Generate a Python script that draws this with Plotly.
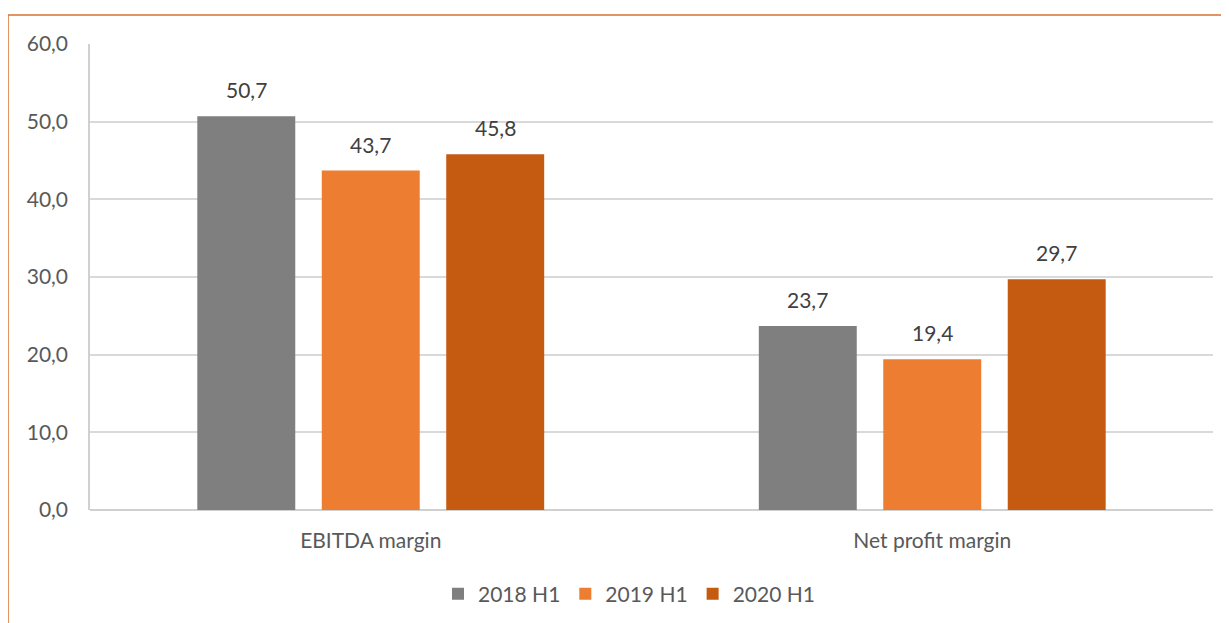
import plotly.graph_objects as go

categories = ["EBITDA margin", "Net profit margin"]
series_names = ["2018 H1", "2019 H1", "2020 H1"]
values_2018 = [50.7, 23.7]
values_2019 = [43.7, 19.4]
values_2020 = [45.8, 29.7]
colors = ["#7f7f7f", "#ed7d31", "#c55a11"]
y_ticks = [0, 10, 20, 30, 40, 50, 60]

FONT = "Lato, 'Open Sans', sans-serif"
FS = 21
W, H = 1229, 623
ML, MR, MT, MB = 82, 24, 36, 121
plot_w = W - ML - MR
plot_h = H - MT - MB
bargap, bargroupgap = 0.335, 0.213
slot_px = plot_w / len(categories) * (1 - bargap) / len(series_names)

fig = go.Figure()
annotations = []
all_vals = [values_2018, values_2019, values_2020]
for i, (name, vals, col) in enumerate(zip(series_names, all_vals, colors)):
    fig.add_trace(go.Bar(
        x=categories, y=vals, name=name, marker=dict(color=col, line=dict(width=0)),
    ))
    for c, v in zip(categories, vals):
        annotations.append(dict(
            x=c, y=v, xref="x", yref="y", text=f"{v:.1f}".replace(".", ","),
            showarrow=False, yanchor="bottom", yshift=12,
            xshift=(i - (len(series_names) - 1) / 2) * slot_px,
            font=dict(size=FS, color="#404040", family=FONT),
        ))

def px_x(px):
    return (px - ML) / plot_w

def px_y(py):
    return (H - MB - py) / plot_h

fig.update_layout(
    width=W, height=H,
    paper_bgcolor="white", plot_bgcolor="white",
    margin=dict(l=ML, r=MR, t=MT, b=MB, autoexpand=False),
    barmode="group", bargap=bargap, bargroupgap=bargroupgap,
    separators=", ",
    font=dict(family=FONT, size=FS, color="#595959"),
    showlegend=True,
    legend=dict(orientation="h", x=px_x(621), xanchor="center", y=px_y(586), yanchor="middle",
                font=dict(size=FS, color="#595959"), itemwidth=30, traceorder="normal"),
    xaxis=dict(showgrid=False, showline=False, ticks="", ticklabelstandoff=16,
               tickfont=dict(size=FS, color="#595959")),
    yaxis=dict(range=[0, 60], tickvals=y_ticks, tickformat=".1f",
               showgrid=True, gridcolor="#d9d9d9", gridwidth=1.5,
               showline=True, linecolor="#d0d0d0", linewidth=1.5,
               zeroline=True, zerolinecolor="#d0d0d0", zerolinewidth=1.5,
               ticks="", ticklabelstandoff=16,
               tickfont=dict(size=FS, color="#595959")),
    annotations=annotations,
    shapes=[
        dict(type="line", xref="paper", yref="paper", x0=px_x(0), x1=px_x(1300), y0=px_y(7), y1=px_y(7),
             line=dict(color="#d9702e", width=1.5)),
        dict(type="line", xref="paper", yref="paper", x0=px_x(0), x1=px_x(0), y0=px_y(7), y1=px_y(700),
             line=dict(color="#d9702e", width=1.5)),
    ],
)
fig.write_html("out.html")
